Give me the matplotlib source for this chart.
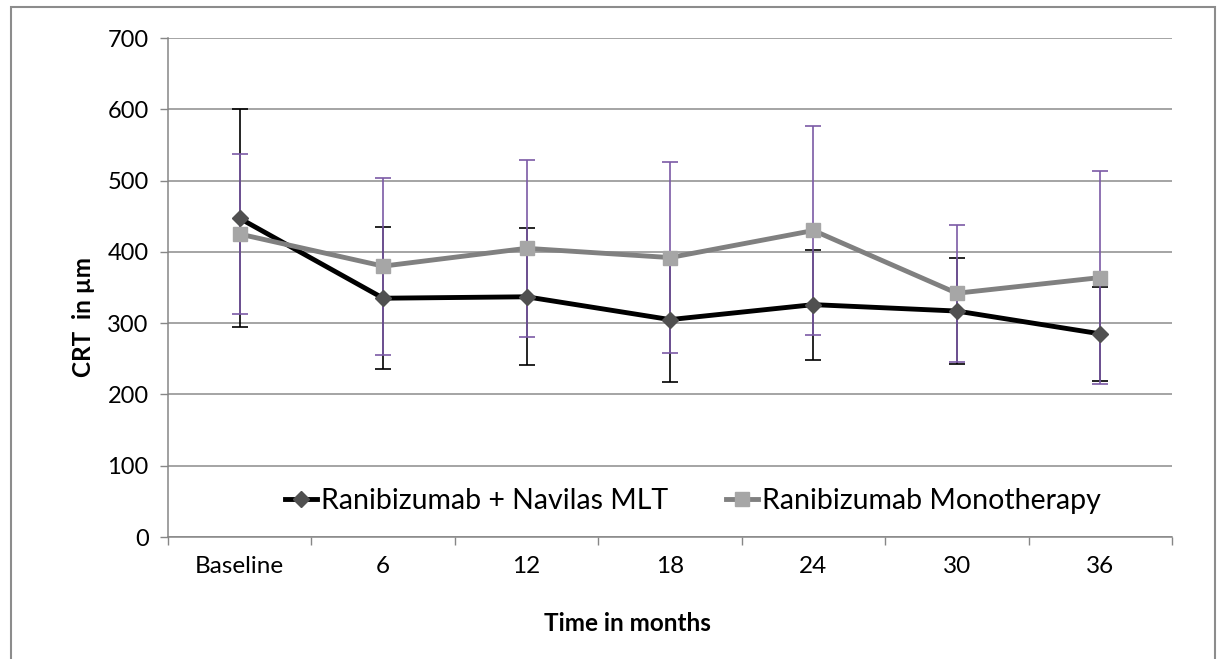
import matplotlib
matplotlib.use("Agg")
import matplotlib.pyplot as plt
from matplotlib.patches import Rectangle

# Data
months = ["Baseline", "6", "12", "18", "24", "30", "36"]
combo_mean = [447, 335, 337, 305, 326, 317, 285]
combo_sd = [153, 100, 96, 88, 77, 74, 66]
mono_mean = [425, 380, 405, 392, 430, 342, 364]
mono_sd = [112, 124, 124, 134, 147, 96, 150]

combo_label = "Ranibizumab + Navilas MLT"
mono_label = "Ranibizumab Monotherapy"

plt.rcParams["font.family"] = ["Lato", "DejaVu Sans"]

fig = plt.figure(figsize=(12.21, 6.59), dpi=100)
ax = fig.add_axes([0.1376, 0.1851, 0.8223, 0.7572])

# outer chart border (open at the bottom, as in the source image)
fig.patches.append(Rectangle((11 / 1221, -0.05), 1204 / 1221, 1.05 - 7 / 659,
                             transform=fig.transFigure, fill=False,
                             edgecolor="#8c8c8c", linewidth=1.5))

x = list(range(len(months)))

# error bars first so the lines/markers sit on top
ax.errorbar(x, combo_mean, yerr=combo_sd, fmt="none", ecolor="black",
            elinewidth=1.2, capsize=5.5, capthick=1.2, zorder=2)
ax.errorbar(x, mono_mean, yerr=mono_sd, fmt="none", ecolor="#7b5aa6",
            elinewidth=1.2, capsize=5.5, capthick=1.2, zorder=3)

ax.plot(x, combo_mean, color="black", linewidth=3.5, marker="D",
        markersize=8, markerfacecolor="#505050", markeredgecolor="#505050",
        label=combo_label, zorder=4)
ax.plot(x, mono_mean, color="#808080", linewidth=3.5, marker="s",
        markersize=10, markerfacecolor="#a6a6a6", markeredgecolor="#a6a6a6",
        label=mono_label, zorder=5)

ax.set_xlim(-0.5, len(months) - 0.5)
ax.set_ylim(0, 700)
ax.set_yticks(range(0, 701, 100))
ax.set_xticks(x)
ax.set_xticklabels(months)
ax.set_xticks([i - 0.5 for i in range(len(months) + 1)], minor=True)
ax.tick_params(axis="x", which="major", length=0, pad=14, labelsize=17.5)
ax.tick_params(axis="x", which="minor", length=6, color="#868686", width=1)
ax.tick_params(axis="y", length=6, color="#868686", width=1, pad=8, labelsize=17)

ax.grid(axis="y", color="#8c8c8c", linewidth=1.1, zorder=0)
ax.set_axisbelow(True)
for side in ["top", "right"]:
    ax.spines[side].set_visible(False)
for side in ["left", "bottom"]:
    ax.spines[side].set_color("#868686")
    ax.spines[side].set_linewidth(1.1)

ax.set_ylabel("CRT  in µm", fontsize=17.5, fontweight="bold")
ax.yaxis.set_label_coords(-0.073, 0.441)
ax.set_xlabel("Time in months", fontsize=17.5, fontweight="bold")
ax.xaxis.set_label_coords(0.458, -0.150)

ax.legend(loc="center", bbox_to_anchor=(0.523, 0.072), ncol=2, frameon=False,
          fontsize=20.5, handlelength=1.1, handletextpad=0.15, columnspacing=2.05,
          borderaxespad=0)

fig.savefig("out.png", dpi=100)
